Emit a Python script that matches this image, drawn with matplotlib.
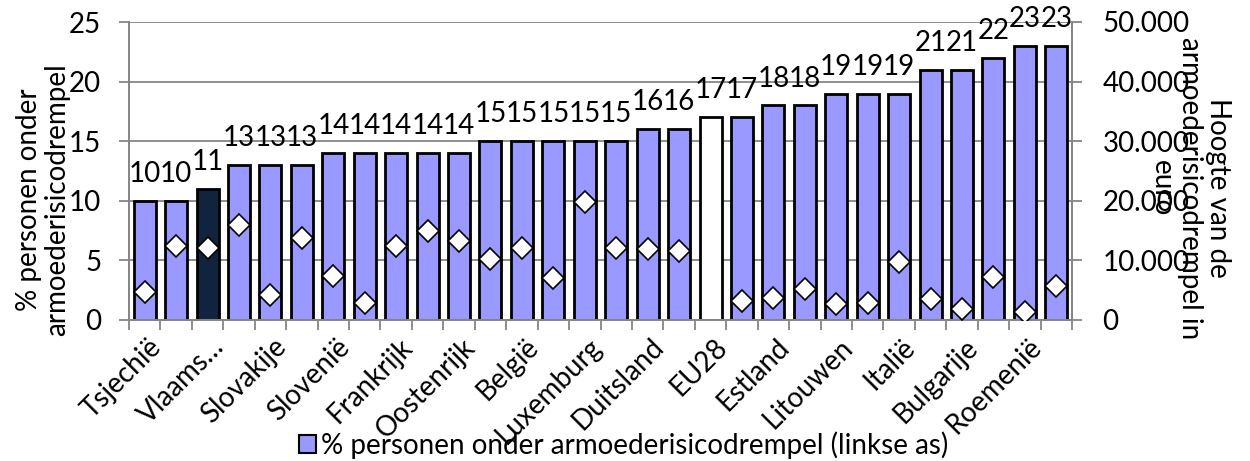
import numpy as np
import matplotlib
matplotlib.use("Agg")
import matplotlib.pyplot as plt
import matplotlib.transforms as mtransforms
from matplotlib.patches import Patch
from matplotlib.ticker import FuncFormatter

plt.rcParams['font.family'] = ['Lato', 'DejaVu Sans']

landen = ["Tsjechië", "", "Vlaams…", "", "Slovakije", "", "Slovenië", "", "Frankrijk", "",
          "Oostenrijk", "", "België", "", "Luxemburg", "", "Duitsland", "", "EU28", "",
          "Estland", "", "Litouwen", "", "Italië", "", "Bulgarije", "", "Roemenië", ""]
pct_armoede = [10, 10, 11, 13, 13, 13, 14, 14, 14, 14, 14, 15, 15, 15, 15, 15, 16, 16,
               17, 17, 18, 18, 19, 19, 19, 21, 21, 22, 23, 23]
drempel_euro = [4750, 12400, 12100, 15900, 4200, 13750, 7400, 2850, 12400, 14900,
                13250, 10300, 12100, 7050, 19800, 12100, 11900, 11600, np.nan, 3200,
                3700, 5200, 2700, 2850, 9700, 3500, 1850, 7200, 1350, 5700]

kleuren = ["#9999FF"] * len(pct_armoede)
kleuren[2] = "#10243E"   # Vlaams Gewest
kleuren[18] = "white"    # EU28

fs = 20
fig = plt.figure(figsize=(12.5, 4.61), dpi=100)
ax = fig.add_axes([129/1250, 1 - 320/461, (1072 - 129)/1250, 298/461])
ax2 = ax.twinx()

x = np.arange(len(pct_armoede))
bars = ax.bar(x, pct_armoede, width=0.7, color=kleuren, edgecolor="black", linewidth=2, zorder=2)
ax.bar_label(bars, labels=[str(v) for v in pct_armoede], padding=10, fontsize=fs)

ax2.plot(x, drempel_euro, linestyle="none", marker="D", markersize=11.5,
         markerfacecolor="white", markeredgecolor="black", markeredgewidth=1.2, zorder=3)

ax.set_xlim(-0.5, len(x) - 0.5)
ax.set_ylim(0, 25)
ax.set_yticks(range(0, 26, 5))
ax2.set_ylim(0, 50000)
ax2.set_yticks(range(0, 50001, 10000))
ax2.yaxis.set_major_formatter(FuncFormatter(lambda v, p: f"{int(v):,}".replace(",", ".")))

ax.grid(axis="y", color="#868686", linewidth=1.3, zorder=0)
ax.set_axisbelow(True)
ax2.set_zorder(ax.get_zorder() + 1)
ax2.patch.set_visible(False)

for a in (ax, ax2):
    for s in a.spines.values():
        s.set_color("#868686")
        s.set_linewidth(1.3)
    a.spines["top"].set_visible(False)
ax.tick_params(axis="y", length=7, width=1.3, color="#868686", pad=13, labelsize=fs)
ax2.tick_params(axis="y", length=7, width=1.3, color="#868686", pad=15, labelsize=fs)

# categorie-grenzen als tickstreepjes, labels op elke tweede balk
ax.set_xticks(np.arange(-0.5, len(x), 1.0), minor=True)
ax.tick_params(axis="x", which="minor", length=7, width=1.3, color="#868686")
ax.set_xticks(x[::2])
ax.set_xticklabels(landen[::2], rotation=45, ha="right", rotation_mode="anchor", fontsize=fs)
ax.tick_params(axis="x", which="major", length=0, pad=2)
shift = mtransforms.ScaledTranslation(3/100, -11/100, fig.dpi_scale_trans)
for lbl in ax.get_xticklabels():
    lbl.set_transform(lbl.get_transform() + shift)

fig.text(43/1250, 1 - 200/461, "% personen onder\narmoederisicodrempel", rotation=90,
         ha="center", va="center", fontsize=fs, linespacing=1.1)
fig.text(1190/1250, 1 - 188/461, "Hoogte van de\narmoederisicodrempel in\neuro", rotation=270,
         ha="center", va="center", fontsize=fs, linespacing=1.1)

handle = Patch(facecolor="#9999FF", edgecolor="black", linewidth=1.5)
fig.legend([handle], ["% personen onder armoederisicodrempel (linkse as)"], loc="center",
           bbox_to_anchor=(624/1250, 1 - 445/461), frameon=False, fontsize=fs,
           handlelength=0.6, handleheight=0.6, handletextpad=0.2, borderpad=0)

fig.savefig("out.png", dpi=100)
